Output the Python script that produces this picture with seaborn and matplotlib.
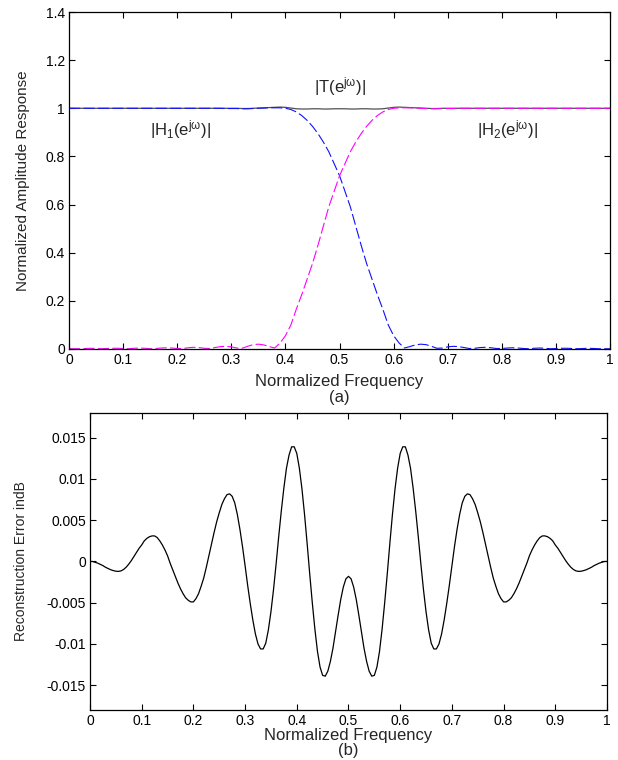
import numpy as np
import matplotlib
matplotlib.use("Agg")
import matplotlib.pyplot as plt
import seaborn as sns

# frequency grid for the amplitude responses (normalized, step 0.01)
freq = np.linspace(0, 1, 101)
# frequency grid for the reconstruction error (step 0.005)
freq_err = np.linspace(0, 1, 201)

# |H1| lowpass (blue dashed)
h1 = [1.000, 1.000, 1.000, 1.000, 1.000, 1.000, 1.000, 1.000, 1.000, 1.000,
      1.000, 1.000, 1.000, 1.000, 1.000, 1.000, 1.000, 1.000, 1.000, 1.000,
      1.000, 1.000, 1.000, 1.000, 1.000, 1.000, 1.000, 1.000, 1.000, 0.999,
      0.999, 0.999, 0.998, 0.998, 0.999, 1.000, 1.001, 1.002, 1.002, 1.002,
      1.000, 0.995, 0.985, 0.970, 0.950, 0.925, 0.895, 0.860, 0.820, 0.770,
      0.720, 0.655, 0.590, 0.510, 0.430, 0.355, 0.290, 0.225, 0.165, 0.100,
      0.055, 0.025, 0.004, 0.010, 0.017, 0.020, 0.018, 0.011, 0.003, 0.004,
      0.009, 0.011, 0.010, 0.006, 0.002, 0.003, 0.006, 0.007, 0.005, 0.002,
      0.002, 0.004, 0.005, 0.004, 0.002, 0.001, 0.003, 0.004, 0.003, 0.001,
      0.002, 0.003, 0.003, 0.002, 0.001, 0.002, 0.003, 0.002, 0.001, 0.001,
      0.001]

# |H2| highpass (magenta dashed)
h2 = [0.001,
      0.001, 0.001, 0.002, 0.003, 0.002, 0.001, 0.002, 0.003, 0.003, 0.002,
      0.001, 0.003, 0.004, 0.003, 0.001, 0.002, 0.004, 0.005, 0.004, 0.002,
      0.002, 0.005, 0.007, 0.006, 0.003, 0.002, 0.006, 0.010, 0.011, 0.009,
      0.004, 0.003, 0.011, 0.018, 0.020, 0.017, 0.010, 0.004, 0.025, 0.055,
      0.100, 0.165, 0.225, 0.290, 0.355, 0.430, 0.510, 0.590, 0.655, 0.720,
      0.770, 0.820, 0.860, 0.895, 0.925, 0.950, 0.970, 0.985, 0.995, 1.000,
      1.002, 1.002, 1.002, 1.001, 1.000, 0.999, 0.998, 0.998, 0.999, 0.999,
      0.999, 1.000, 1.000, 1.000, 1.000, 1.000, 1.000, 1.000, 1.000, 1.000,
      1.000, 1.000, 1.000, 1.000, 1.000, 1.000, 1.000, 1.000, 1.000, 1.000,
      1.000, 1.000, 1.000, 1.000, 1.000, 1.000, 1.000, 1.000, 1.000, 1.000]

# |T| overall (dark solid)
t_resp = [1.000, 1.000, 1.000, 1.000, 1.000, 1.000, 1.000, 1.000, 1.000, 1.000,
          1.000, 1.000, 1.000, 1.000, 1.000, 1.000, 1.000, 1.000, 1.000, 1.000,
          1.000, 1.000, 1.000, 1.000, 1.000, 1.000, 1.000, 1.000, 1.000, 1.000,
          1.000, 1.000, 0.999, 0.999, 1.000, 1.001, 1.002, 1.003, 1.004, 1.005,
          1.004, 1.001, 0.998, 0.997, 0.997, 0.998, 0.998, 0.997, 0.997, 0.998,
          0.998, 0.998, 0.997, 0.997, 0.998, 0.998, 0.997, 0.997, 0.998, 1.001,
          1.004, 1.005, 1.004, 1.003, 1.002, 1.001, 1.000, 0.999, 0.999, 1.000,
          1.000, 1.000, 1.000, 1.000, 1.000, 1.000, 1.000, 1.000, 1.000, 1.000,
          1.000, 1.000, 1.000, 1.000, 1.000, 1.000, 1.000, 1.000, 1.000, 1.000,
          1.000, 1.000, 1.000, 1.000, 1.000, 1.000, 1.000, 1.000, 1.000, 1.000,
          1.000]

# reconstruction error in dB
err_db = [0.0000, 0.0000, -0.0001, -0.0002, -0.00035, -0.0005, -0.0007, -0.00085, -0.0010, -0.0011,
          -0.00118, -0.0012, -0.00114, -0.00097, -0.00069, -0.00032, 0.00011, 0.0006, 0.0011, 0.0016,
          0.0020, 0.0025, 0.0028, 0.0030, 0.0031, 0.0031, 0.0029, 0.0025, 0.0020, 0.0014,
          0.0007, -0.0002, -0.0010, -0.0018, -0.0026, -0.0033, -0.0039, -0.0044, -0.0047, -0.0049,
          -0.0049, -0.0045, -0.0039, -0.0030, -0.0020, -0.0007, 0.0007, 0.0021, 0.0035, 0.0048,
          0.0059, 0.0069, 0.0076, 0.0081, 0.0082, 0.0079, 0.0071, 0.0057, 0.0039, 0.0018,
          -0.0005, -0.0029, -0.0051, -0.0071, -0.0088, -0.0100, -0.0106, -0.0106, -0.0099, -0.0083,
          -0.0061, -0.0034, -0.0003, 0.0030, 0.0061, 0.0089, 0.0113, 0.0129, 0.0139, 0.0139,
          0.0131, 0.0113, 0.0088, 0.0057, 0.0022, -0.0015, -0.0050, -0.0082, -0.0109, -0.0128,
          -0.0138, -0.0139, -0.0133, -0.0121, -0.0105, -0.0085, -0.0065, -0.0046, -0.0031, -0.0021,
          -0.0018,
          -0.0021, -0.0031, -0.0046, -0.0065, -0.0085, -0.0105, -0.0121, -0.0133, -0.0139, -0.0138,
          -0.0128, -0.0109, -0.0082, -0.0050, -0.0015, 0.0022, 0.0057, 0.0088, 0.0113, 0.0131,
          0.0139, 0.0139, 0.0129, 0.0113, 0.0089, 0.0061, 0.0030, -0.0003, -0.0034, -0.0061,
          -0.0083, -0.0099, -0.0106, -0.0106, -0.0100, -0.0088, -0.0071, -0.0051, -0.0029, -0.0005,
          0.0018, 0.0039, 0.0057, 0.0071, 0.0079, 0.0082, 0.0081, 0.0076, 0.0069, 0.0059,
          0.0048, 0.0035, 0.0021, 0.0007, -0.0007, -0.0020, -0.0030, -0.0039, -0.0045, -0.0049,
          -0.0049, -0.0047, -0.0044, -0.0039, -0.0033, -0.0026, -0.0018, -0.0010, -0.0002, 0.0007,
          0.0014, 0.0020, 0.0025, 0.0029, 0.0031, 0.0031, 0.0030, 0.0028, 0.0025, 0.0020,
          0.0016, 0.0011, 0.0006, 0.00011, -0.00032, -0.00069, -0.00097, -0.00114, -0.0012, -0.00118,
          -0.0011, -0.0010, -0.00085, -0.0007, -0.0005, -0.00035, -0.0002, -0.0001, 0.0000, 0.0000]

xticks = [0, 0.1, 0.2, 0.3, 0.4, 0.5, 0.6, 0.7, 0.8, 0.9, 1]
xticklabels = ["0", "0.1", "0.2", "0.3", "0.4", "0.5", "0.6", "0.7", "0.8", "0.9", "1"]
yticks_a = [0, 0.2, 0.4, 0.6, 0.8, 1, 1.2, 1.4]
yticklabels_a = ["0", "0.2", "0.4", "0.6", "0.8", "1", "1.2", "1.4"]
yticks_b = [-0.015, -0.01, -0.005, 0, 0.005, 0.01, 0.015]
yticklabels_b = ["-0.015", "-0.01", "-0.005", "0", "0.005", "0.01", "0.015"]

sns.set_style("ticks")
plt.rcParams["font.family"] = ["Liberation Sans", "DejaVu Sans"]
plt.rcParams["mathtext.fontset"] = "custom"
plt.rcParams["mathtext.rm"] = "Liberation Sans"
plt.rcParams["mathtext.it"] = "Liberation Sans"
plt.rcParams["mathtext.default"] = "regular"

fig = plt.figure(figsize=(6.18, 7.60), dpi=100)
ax1 = fig.add_axes([0.1117, 0.5408, 0.8755, 0.4434])
ax2 = fig.add_axes([0.1456, 0.0658, 0.8366, 0.3908])

dash = (0, (10, 3))
sns.lineplot(x=freq, y=t_resp, ax=ax1, color="#505050", linewidth=0.9)
sns.lineplot(x=freq, y=h1, ax=ax1, color="#1010ff", linewidth=0.8, linestyle=dash)
sns.lineplot(x=freq, y=h2, ax=ax1, color="#ff00ff", linewidth=0.8, linestyle=dash)

ax1.text(0.205, 0.91, r"$|H_1(e^{j\omega})|$", fontsize=12, ha="center", va="center")
ax1.text(0.50, 1.09, r"$|T(e^{j\omega})|$", fontsize=12, ha="center", va="center")
ax1.text(0.81, 0.91, r"$|H_2(e^{j\omega})|$", fontsize=12, ha="center", va="center")

ax1.set_xlim(0, 1)
ax1.set_ylim(0, 1.4)
ax1.set_xticks(xticks)
ax1.set_xticklabels(xticklabels)
ax1.set_yticks(yticks_a)
ax1.set_yticklabels(yticklabels_a)
ax1.set_xlabel("Normalized Frequency\n(a)", fontsize=12, labelpad=5, linespacing=1.05)
ax1.set_ylabel("Normalized Amplitude Response", fontsize=11, labelpad=11)

sns.lineplot(x=freq_err, y=err_db, ax=ax2, color="black", linewidth=0.9)
ax2.set_xlim(0, 1)
ax2.set_ylim(-0.018, 0.018)
ax2.set_xticks(xticks)
ax2.set_xticklabels(xticklabels)
ax2.set_yticks(yticks_b)
ax2.set_yticklabels(yticklabels_b)
ax2.set_xlabel("Normalized Frequency\n(b)", fontsize=12, labelpad=0, linespacing=1.0)
ax2.set_ylabel("Reconstruction Error indB", fontsize=10, labelpad=13)

for ax in (ax1, ax2):
    ax.tick_params(direction="in", top=True, right=True, length=4, width=0.8,
                   labelsize=10, pad=3, colors="black")
    for sp in ax.spines.values():
        sp.set_linewidth(0.9)
        sp.set_color("black")

fig.savefig("out.png", dpi=100)
plt.close(fig)
